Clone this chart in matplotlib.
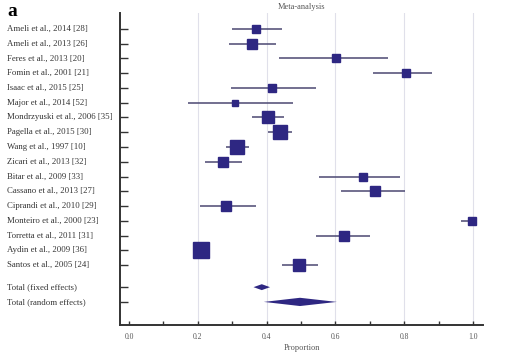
import numpy as np
import matplotlib.pyplot as plt
import matplotlib.transforms as mtransforms

plt.rcParams['font.family'] = ['Liberation Serif', 'DejaVu Serif']

studies = ["Ameli et al., 2014 [28]", "Ameli et al., 2013 [26]", "Feres et al., 2013 [20]",
           "Fomin et al., 2001 [21]", "Isaac et al., 2015 [25]", "Major et al., 2014 [52]",
           "Mondrzyuski et al., 2006 [35]", "Pagella et al., 2015 [30]", "Wang et al., 1997 [10]",
           "Zicari et al., 2013 [32]", "Bitar et al., 2009 [33]", "Cassano et al., 2013 [27]",
           "Ciprandi et al., 2010 [29]", "Monteiro et al., 2000 [23]", "Torretta et al., 2011 [31]",
           "Aydin et al., 2009 [36]", "Santos et al., 2005 [24]"]
estimate = [0.368, 0.357, 0.602, 0.806, 0.416, 0.308, 0.405, 0.438, 0.314,
            0.272, 0.679, 0.716, 0.282, 0.998, 0.625, 0.210, 0.495]
ci_low = [0.300, 0.290, 0.436, 0.710, 0.296, 0.172, 0.358, 0.403, 0.282,
          0.222, 0.552, 0.616, 0.206, 0.966, 0.544, 0.195, 0.444]
ci_high = [0.445, 0.427, 0.752, 0.881, 0.545, 0.476, 0.452, 0.473, 0.350,
           0.328, 0.789, 0.801, 0.369, 1.000, 0.700, 0.235, 0.548]
weights = [3.9, 6.1, 3.0, 3.9, 3.0, 2.6, 7.4, 10.3, 10.3, 6.1, 3.0, 4.4, 4.4, 3.9, 5.0, 13.8, 8.8]

totals = ["Total (fixed effects)", "Total (random effects)"]
total_est = [0.386, 0.497]
total_low = [0.362, 0.392]
total_high = [0.410, 0.604]

navy = "#2e2782"
line_col = "#4b4872"
txt_col = "#333333"

fig = plt.figure(figsize=(5.13, 3.62), dpi=100)
ax = fig.add_axes([0.234, 0.102, 0.7075, 0.862])

ypos = np.arange(len(studies))
ytot = [len(studies) + 0.5, len(studies) + 1.5]

for xv in [0.2, 0.4, 0.6, 0.8, 1.0]:
    ax.axvline(xv, color="#e0e0ea", lw=0.8, zorder=0)

ax.hlines(ypos, ci_low, ci_high, color=line_col, lw=1.1, zorder=2)
for y, e, w in zip(ypos, estimate, weights):
    ax.plot(e, y, marker="s", ms=3.1 * np.sqrt(w), color=navy, mec=navy, zorder=3)

dh = [0.2, 0.28]
for y, e, lo, hi, h in zip(ytot, total_est, total_low, total_high, dh):
    ax.fill([lo, e, hi, e], [y, y - h, y, y + h], color=navy, lw=0, zorder=3)

ax.set_xlim(-0.026, 1.029)
ax.set_ylim(20.07, -1.08)

ax.set_yticks(list(ypos) + ytot)
ax.set_yticklabels([])
tr = mtransforms.blended_transform_factory(fig.transFigure, ax.transData)
for y, lab in zip(list(ypos) + ytot, studies + totals):
    ax.text(7 / 513, y, lab, transform=tr, ha="left", va="center", fontsize=6.3, color=txt_col)

ax.set_xticks([0.0, 0.2, 0.4, 0.6, 0.8, 1.0])
ax.set_xticklabels(["0.0", "0.2", "0.4", "0.6", "0.8", "1.0"], fontsize=5.5, color="#555555")
ax.set_xticks(np.arange(0.1, 1.0, 0.2), minor=True)
ax.tick_params(axis="x", which="both", direction="in", length=3.2, width=1.0, color="#333333", pad=6)
ax.tick_params(axis="y", direction="in", length=5.8, width=1.0, color="#333333")

for s in ["top", "right"]:
    ax.spines[s].set_visible(False)
for s in ["left", "bottom"]:
    ax.spines[s].set_linewidth(1.4)
    ax.spines[s].set_color("#333333")

ax.set_xlabel("Proportion", fontsize=6, color="#555555", labelpad=2)
ax.set_title("Meta-analysis", fontsize=6, color="#555555", pad=3)
fig.text(12 / 513, 1 - 11 / 362, "a", fontsize=14, fontweight="bold", ha="center", va="center")

fig.savefig("out.png", dpi=100)
